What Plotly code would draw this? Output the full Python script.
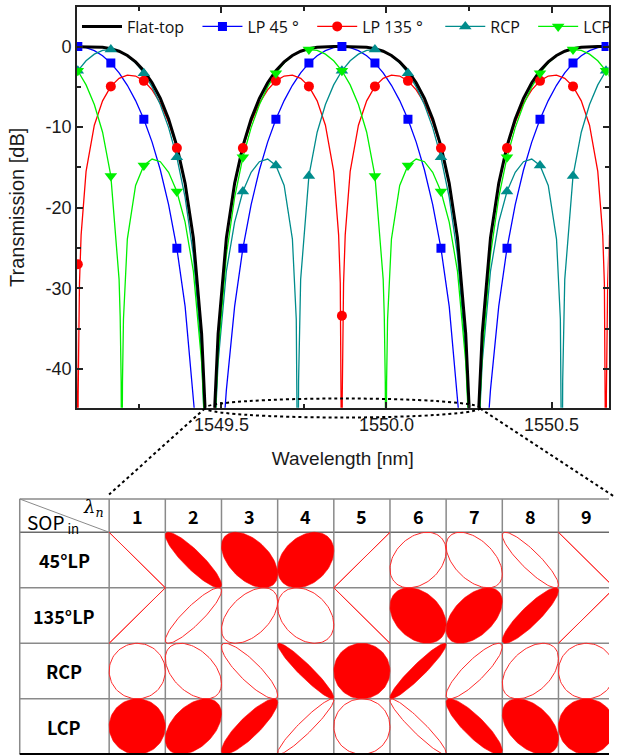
import numpy as np
import plotly.graph_objects as go

# ---------------------------------------------------------------- data
# Transmission spectra (wavelength in nm, transmission in dB)
flat_wl = [1549.040, 1549.065, 1549.090, 1549.115, 1549.140, 1549.165, 1549.190, 1549.215, 1549.240, 1549.265,
           1549.290, 1549.315, 1549.340, 1549.365, 1549.390, 1549.415, 1549.440, 1549.450, 1549.455,
           1549.475, 1549.480, 1549.490, 1549.515, 1549.540, 1549.565, 1549.590, 1549.615, 1549.640, 1549.665,
           1549.690, 1549.715, 1549.740, 1549.765, 1549.790, 1549.815, 1549.840, 1549.865, 1549.890, 1549.915,
           1549.940, 1549.965, 1549.990, 1550.015, 1550.040, 1550.065, 1550.090, 1550.115, 1550.140, 1550.165,
           1550.190, 1550.215, 1550.240, 1550.250, 1550.255,
           1550.275, 1550.280, 1550.290, 1550.315, 1550.340, 1550.365, 1550.390, 1550.415, 1550.440, 1550.465,
           1550.490, 1550.515, 1550.540, 1550.565, 1550.590, 1550.615, 1550.640, 1550.665, 1550.690]
flat_db = [0.0, 0.0, 0.0, -0.02, -0.09, -0.26, -0.59, -1.12, -1.91, -3.01,
           -4.49, -6.44, -8.99, -12.36, -16.97, -23.73, -35.60, -44.44, -51.48,
           -51.48, -44.44, -35.60, -23.73, -16.97, -12.36, -8.99, -6.44, -4.49, -3.01,
           -1.91, -1.12, -0.59, -0.26, -0.09, -0.02, 0.0, 0.0, 0.0, -0.02,
           -0.09, -0.26, -0.59, -1.12, -1.91, -3.01, -4.49, -6.44, -8.99, -12.36,
           -16.97, -23.73, -35.60, -44.44, -51.48,
           -51.48, -44.44, -35.60, -23.73, -16.97, -12.36, -8.99, -6.44, -4.49, -3.01,
           -1.91, -1.12, -0.59, -0.26, -0.09, -0.02, 0.0, 0.0, 0.0]

lp45_wl = [1549.040, 1549.065, 1549.090, 1549.115, 1549.140, 1549.165, 1549.190, 1549.215, 1549.240, 1549.265,
           1549.290, 1549.315, 1549.340, 1549.365, 1549.390, 1549.415, 1549.425,
           1549.505, 1549.515, 1549.540, 1549.565, 1549.590, 1549.615, 1549.640, 1549.665, 1549.690, 1549.715,
           1549.740, 1549.765, 1549.790, 1549.815, 1549.840, 1549.865, 1549.890, 1549.915, 1549.940, 1549.965,
           1549.990, 1550.015, 1550.040, 1550.065, 1550.090, 1550.115, 1550.140, 1550.165, 1550.190, 1550.215,
           1550.225,
           1550.305, 1550.315, 1550.340, 1550.365, 1550.390, 1550.415, 1550.440, 1550.465, 1550.490, 1550.515,
           1550.540, 1550.565, 1550.590, 1550.615, 1550.640, 1550.665, 1550.690]
lp45_db = [-0.13, 0.0, -0.13, -0.51, -1.15, -2.06, -3.27, -4.81, -6.71, -9.03,
           -11.86, -15.32, -19.60, -25.03, -32.23, -42.59, -48.34,
           -48.34, -42.59, -32.23, -25.03, -19.60, -15.32, -11.86, -9.03, -6.71, -4.81,
           -3.27, -2.06, -1.15, -0.51, -0.13, 0.0, -0.13, -0.51, -1.15, -2.06,
           -3.27, -4.81, -6.71, -9.03, -11.86, -15.32, -19.60, -25.03, -32.23, -42.59,
           -48.34,
           -48.34, -42.59, -32.23, -25.03, -19.60, -15.32, -11.86, -9.03, -6.71, -4.81,
           -3.27, -2.06, -1.15, -0.51, -0.13, 0.0, -0.13]

lp135_wl = [1549.060, 1549.063, 1549.064, 1549.065, 1549.066, 1549.067, 1549.070, 1549.075, 1549.090, 1549.115,
            1549.140, 1549.165, 1549.190, 1549.215, 1549.240, 1549.265, 1549.290, 1549.315, 1549.340, 1549.365,
            1549.390, 1549.415, 1549.440, 1549.450, 1549.455,
            1549.475, 1549.480, 1549.490, 1549.515, 1549.540, 1549.565, 1549.590, 1549.615, 1549.640, 1549.665,
            1549.690, 1549.715, 1549.740, 1549.765, 1549.790, 1549.815, 1549.840, 1549.855, 1549.860, 1549.863,
            1549.864, 1549.865, 1549.866, 1549.867, 1549.870, 1549.875, 1549.890, 1549.915, 1549.940, 1549.965,
            1549.990, 1550.015, 1550.040, 1550.065, 1550.090, 1550.115, 1550.140, 1550.165, 1550.190, 1550.215,
            1550.240, 1550.250, 1550.255,
            1550.275, 1550.280, 1550.290, 1550.315, 1550.340, 1550.365, 1550.390, 1550.415, 1550.440, 1550.465,
            1550.490, 1550.515, 1550.540, 1550.565, 1550.590, 1550.615, 1550.640, 1550.655, 1550.660, 1550.663,
            1550.664, 1550.665, 1550.666, 1550.667, 1550.670, 1550.675]
lp135_db = [-29.37, -37.33, -43.35, -60.0, -43.35, -37.33, -29.37, -23.36, -15.49, -9.76,
            -6.74, -4.95, -3.94, -3.54, -3.66, -4.26, -5.37, -7.04, -9.39, -12.60,
            -17.10, -23.79, -35.62, -44.45, -51.48,
            -51.48, -44.45, -35.62, -23.79, -17.10, -12.60, -9.39, -7.04, -5.37, -4.26,
            -3.66, -3.54, -3.94, -4.95, -6.74, -9.76, -15.49, -23.36, -29.37, -37.33,
            -43.35, -60.0, -43.35, -37.33, -29.37, -23.36, -15.49, -9.76, -6.74, -4.95,
            -3.94, -3.54, -3.66, -4.26, -5.37, -7.04, -9.39, -12.60, -17.10, -23.79,
            -35.62, -44.45, -51.48,
            -51.48, -44.45, -35.62, -23.79, -17.10, -12.60, -9.39, -7.04, -5.37, -4.26,
            -3.66, -3.54, -3.94, -4.95, -6.74, -9.76, -15.49, -23.36, -29.37, -37.33,
            -43.35, -60.0, -43.35, -37.33, -29.37, -23.36]

rcp_wl = [1549.040, 1549.065, 1549.090, 1549.115, 1549.140, 1549.165, 1549.190, 1549.215, 1549.240, 1549.265,
          1549.290, 1549.315, 1549.340, 1549.365, 1549.390, 1549.415, 1549.440, 1549.450, 1549.455,
          1549.475, 1549.480, 1549.490, 1549.515, 1549.540, 1549.565, 1549.590, 1549.615, 1549.640, 1549.665,
          1549.690, 1549.715, 1549.7267, 1549.7297, 1549.7317, 1549.7337, 1549.7367, 1549.740, 1549.765, 1549.790,
          1549.815, 1549.840, 1549.865, 1549.890, 1549.915, 1549.940, 1549.965, 1549.990, 1550.015, 1550.040,
          1550.065, 1550.090, 1550.115, 1550.140, 1550.165, 1550.190, 1550.215, 1550.240, 1550.250, 1550.255,
          1550.275, 1550.280, 1550.290, 1550.315, 1550.340, 1550.365, 1550.390, 1550.415, 1550.440, 1550.465,
          1550.490, 1550.515, 1550.5267, 1550.5297, 1550.5317, 1550.5337, 1550.5367, 1550.540, 1550.565, 1550.590,
          1550.615, 1550.640, 1550.665, 1550.690]
rcp_db = [-4.76, -3.01, -1.77, -0.95, -0.49, -0.38, -0.59, -1.14, -2.04, -3.31,
          -5.01, -7.22, -10.06, -13.75, -18.71, -25.85, -38.15, -47.16, -54.30,
          -54.70, -47.76, -39.14, -27.86, -21.78, -17.99, -15.60, -14.29, -13.96, -14.75,
          -17.23, -23.88, -33.83, -41.67, -60.0, -41.51, -33.44, -28.88, -16.05, -10.63,
          -7.19, -4.76, -3.01, -1.77, -0.95, -0.49, -0.38, -0.59, -1.14, -2.04,
          -3.31, -5.01, -7.22, -10.06, -13.75, -18.71, -25.85, -38.15, -47.16, -54.30,
          -54.70, -47.76, -39.14, -27.86, -21.78, -17.99, -15.60, -14.29, -13.96, -14.75,
          -17.23, -23.88, -33.83, -41.67, -60.0, -41.51, -33.44, -28.88, -16.05, -10.63,
          -7.19, -4.76, -3.01, -1.77]

lcp_wl = [1549.040, 1549.065, 1549.090, 1549.115, 1549.140, 1549.165, 1549.190, 1549.1933, 1549.1963, 1549.1983,
          1549.2003, 1549.2033, 1549.215, 1549.240, 1549.265, 1549.290, 1549.315, 1549.340, 1549.365, 1549.390,
          1549.415, 1549.440, 1549.450, 1549.455,
          1549.475, 1549.480, 1549.490, 1549.515, 1549.540, 1549.565, 1549.590, 1549.615, 1549.640, 1549.665,
          1549.690, 1549.715, 1549.740, 1549.765, 1549.790, 1549.815, 1549.840, 1549.865, 1549.890, 1549.915,
          1549.940, 1549.965, 1549.990, 1549.9933, 1549.9963, 1549.9983, 1550.0003, 1550.0033, 1550.015, 1550.040,
          1550.065, 1550.090, 1550.115, 1550.140, 1550.165, 1550.190, 1550.215, 1550.240, 1550.250, 1550.255,
          1550.275, 1550.280, 1550.290, 1550.315, 1550.340, 1550.365, 1550.390, 1550.415, 1550.440, 1550.465,
          1550.490, 1550.515, 1550.540, 1550.565, 1550.590, 1550.615, 1550.640, 1550.665, 1550.690]
lcp_db = [-1.77, -3.01, -4.76, -7.19, -10.63, -16.05, -28.88, -33.44, -41.51, -60.0,
          -41.67, -33.83, -23.88, -17.23, -14.75, -13.96, -14.29, -15.60, -17.99, -21.78,
          -27.86, -39.14, -47.76, -54.70,
          -54.30, -47.16, -38.15, -25.85, -18.71, -13.75, -10.06, -7.22, -5.01, -3.31,
          -2.04, -1.14, -0.59, -0.38, -0.49, -0.95, -1.77, -3.01, -4.76, -7.19,
          -10.63, -16.05, -28.88, -33.44, -41.51, -60.0, -41.67, -33.83, -23.88, -17.23,
          -14.75, -13.96, -14.29, -15.60, -17.99, -21.78, -27.86, -39.14, -47.76, -54.70,
          -54.30, -47.16, -38.15, -25.85, -18.71, -13.75, -10.06, -7.22, -5.01, -3.31,
          -2.04, -1.14, -0.59, -0.38, -0.49, -0.95, -1.77, -3.01, -4.76]

# Symbol markers (every 0.1 nm)
marker_wl = [1549.065, 1549.165, 1549.265, 1549.365, 1549.465, 1549.565, 1549.665, 1549.765, 1549.865,
             1549.965, 1550.065, 1550.165, 1550.265, 1550.365, 1550.465, 1550.565, 1550.665]
lp45_mk = [0.0, -2.06, -9.03, -25.03, None, -25.03, -9.03, -2.06, 0.0,
           -2.06, -9.03, -25.03, None, -25.03, -9.03, -2.06, 0.0]
lp135_mk = [-27.0, -4.95, -4.26, -12.60, None, -12.60, -4.26, -4.95, -33.4,
            -4.95, -4.26, -12.60, None, -12.60, -4.26, -4.95, None]
rcp_mk = [-3.01, -0.38, -3.31, -13.75, None, -17.99, -14.75, -16.05, -3.01,
          -0.38, -3.31, -13.75, None, -17.99, -14.75, -16.05, -3.01]
lcp_mk = [-3.01, -16.05, -14.75, -17.99, None, -13.75, -3.31, -0.38, -3.01,
          -16.05, -14.75, -17.99, None, -13.75, -3.31, -0.38, -3.01]

x_tickvals = [1549.5, 1550.0, 1550.5]
x_ticktext = ["1549.5", "1550.0", "1550.5"]
x_minorvals = [1549.25, 1549.75, 1550.25]
y_tickvals = [0, -10, -20, -30, -40]
y_ticktext = ["0", "-10", "-20", "-30", "-40"]
y_minorvals = [-5, -15, -25, -35]

# Output SOP table: relative phase (deg) between Ex and Ey for each lambda_n
# (negative phase = filled ellipse, positive = outline, 0/180 = linear)
lambda_cols = ["1", "2", "3", "4", "5", "6", "7", "8", "9"]
sop_rows = ["45°LP", "135°LP", "RCP", "LCP"]
phase_45lp = [180, -153, -120, -71, 0, 71, 120, 153, 180]
phase_135lp = [0, 27, 60, 109, 180, -109, -60, -27, 0]
phase_rcp = [90, 117, 150, -161, -90, -19, 30, 63, 90]
phase_lcp = [-90, -63, -30, 19, 90, 161, -150, -117, -90]

# ---------------------------------------------------------------- figure
W, H = 617, 755
BLUE, RED, TEAL, GREEN = "#0000FF", "#FF0000", "#008C8C", "#00F000"
AX = "#222222"
TICKFONT = dict(family="Liberation Sans, Arial, sans-serif", size=18, color="#1a1a1a")
NB = "\u00a0"

fig = go.Figure()

curves = [
    ("Flat-top" + NB * 2, flat_wl, flat_db, None, "black", 3.0, None, None),
    ("LP 45 °" + NB * 2, lp45_wl, lp45_db, lp45_mk, BLUE, 1.3, "square", 9),
    ("LP 135 °" + NB * 3, lp135_wl, lp135_db, lp135_mk, RED, 1.3, "circle", 10),
    ("RCP" + NB * 2, rcp_wl, rcp_db, rcp_mk, TEAL, 1.3, "triangle-up", 11),
    ("LCP", lcp_wl, lcp_db, lcp_mk, GREEN, 1.3, "triangle-down", 11),
]

# lines (coloured first, black flat-top on top)
for name, xw, yd, mk, col, lw, sym, ms in curves[1:] + curves[:1]:
    fig.add_trace(go.Scatter(x=xw, y=yd, mode="lines", line=dict(color=col, width=lw),
                             showlegend=False, hoverinfo="skip", xaxis="x", yaxis="y"))
# symbols
for name, xw, yd, mk, col, lw, sym, ms in curves[1:]:
    fig.add_trace(go.Scatter(x=marker_wl, y=mk, mode="markers",
                             marker=dict(symbol=sym, size=ms, color=col, line=dict(width=0)),
                             showlegend=False, hoverinfo="skip", xaxis="x", yaxis="y"))
# legend entries (line + symbol)
for name, xw, yd, mk, col, lw, sym, ms in curves:
    if sym is None:
        fig.add_trace(go.Scatter(x=[None], y=[None], mode="lines", name=name,
                                 line=dict(color=col, width=lw), xaxis="x", yaxis="y"))
    else:
        fig.add_trace(go.Scatter(x=[None], y=[None], mode="lines+markers", name=name,
                                 line=dict(color=col, width=lw),
                                 marker=dict(symbol=sym, size=ms, color=col, line=dict(width=0)),
                                 xaxis="x", yaxis="y"))

# ---------------- polarization ellipse table (x2 / y2: one unit per cell)
t = np.linspace(0, 2 * np.pi, 97)
fx, fy, ox, oy = [], [], [], []
for r, phases in enumerate([phase_45lp, phase_135lp, phase_rcp, phase_lcp], start=1):
    for c, d in enumerate(phases, start=1):
        ex = c + 0.5 * np.cos(t)
        ey = r - 0.5 * np.cos(t - np.radians(d))
        if -180 < d < 0:
            fx += list(ex) + [None]
            fy += list(ey) + [None]
        else:
            ox += list(ex) + [None]
            oy += list(ey) + [None]
fig.add_trace(go.Scatter(x=fx, y=fy, mode="lines", fill="toself", fillcolor="#FF0000",
                         line=dict(color="#FF0000", width=0.6), showlegend=False,
                         hoverinfo="skip", xaxis="x2", yaxis="y2"))
fig.add_trace(go.Scatter(x=ox, y=oy, mode="lines", line=dict(color="#FF2a2a", width=1),
                         showlegend=False, hoverinfo="skip", xaxis="x2", yaxis="y2"))

n_cols = len(lambda_cols)
n_rows = len(sop_rows)
u_left = -1.0923
v_top = -0.1
shapes = []
grid = dict(color="#8a8a8a", width=1.5)
shapes.append(dict(type="line", xref="x2", yref="y2", x0=u_left, x1=n_cols + 0.5, y0=v_top, y1=v_top, line=grid, layer="below"))
for k in range(n_rows):
    shapes.append(dict(type="line", xref="x2", yref="y2", x0=u_left, x1=n_cols + 0.5, y0=k + 0.5, y1=k + 0.5,
                       line=dict(color="#6a6a6a" if k == 0 else "#8a8a8a", width=1.5), layer="below"))
shapes.append(dict(type="line", xref="x2", yref="y2", x0=u_left, x1=n_cols + 0.5, y0=n_rows + 0.5, y1=n_rows + 0.5,
                   line=dict(color="black", width=2.5), layer="above"))
shapes.append(dict(type="line", xref="x2", yref="y2", x0=u_left, x1=u_left, y0=v_top, y1=n_rows + 0.5, line=grid, layer="below"))
for k in range(n_cols):
    shapes.append(dict(type="line", xref="x2", yref="y2", x0=k + 0.5, x1=k + 0.5, y0=v_top, y1=n_rows + 0.5,
                       line=grid, layer="below"))
shapes.append(dict(type="line", xref="x2", yref="y2", x0=u_left, x1=0.5, y0=v_top, y1=0.5,
                   line=dict(color="#8a8a8a", width=1), layer="below"))

# dotted zoom ellipse + connectors (paper coordinates)
dot = dict(color="black", width=2, dash="dot")
shapes.append(dict(type="circle", xref="paper", yref="paper", x0=207.5 / W, x1=486.5 / W,
                   y0=1 - 417.5 / H, y1=1 - 398.5 / H, line=dot, layer="above"))
shapes.append(dict(type="line", xref="paper", yref="paper", x0=207.5 / W, y0=1 - 408.5 / H,
                   x1=110.5 / W, y1=1 - 494.5 / H, line=dot, layer="above"))
shapes.append(dict(type="line", xref="paper", yref="paper", x0=486.5 / W, y0=1 - 408.5 / H,
                   x1=623.0 / W, y1=1 - 497.0 / H, line=dot, layer="above"))

annotations = []
TBL_FONT = "Noto Sans CJK KR, Noto Sans, sans-serif"
for k, lab in enumerate(lambda_cols, start=1):
    annotations.append(dict(xref="x2", yref="y2", x=k, y=0.2, text="<b>%s</b>" % lab, showarrow=False,
                            font=dict(family=TBL_FONT, size=18, color="black")))
for r, lab in enumerate(sop_rows, start=1):
    annotations.append(dict(xref="x2", yref="y2", x=(u_left + 0.5) / 2, y=r, text="<b>%s</b>" % lab,
                            showarrow=False, font=dict(family=TBL_FONT, size=18, color="black")))
annotations.append(dict(xref="x2", yref="y2", x=-1.004, y=0.33, xanchor="left", text="SOP<sub> in</sub>",
                        showarrow=False, font=dict(family=TBL_FONT, size=19, color="black")))
annotations.append(dict(xref="x2", yref="y2", x=0.226, y=0.06, text="<i>λ<sub>n</sub></i>",
                        showarrow=False, font=dict(family="DejaVu Serif, serif", size=18, color="black")))

fig.update_layout(
    width=W, height=H, autosize=False,
    margin=dict(l=0, r=0, t=0, b=0, pad=0),
    paper_bgcolor="white", plot_bgcolor="white",
    showlegend=True,
    legend=dict(orientation="h", x=78 / W, xanchor="left", y=1 - 26.5 / H, yanchor="middle",
                bgcolor="rgba(0,0,0,0)", borderwidth=0, itemwidth=40,
                font=dict(family="Open Sans, sans-serif", size=16, color="#111111")),
    xaxis=dict(domain=[78 / W, 616.5 / W], range=[1549.0625, 1550.6725], anchor="y",
               showline=True, linecolor=AX, linewidth=1.5, mirror="ticks",
               ticks="inside", ticklen=6, tickwidth=1.5, tickcolor=AX,
               tickmode="array", tickvals=x_tickvals, ticktext=x_ticktext, tickfont=TICKFONT,
               minor=dict(tickmode="array", tickvals=x_minorvals, ticks="inside", ticklen=4,
                          tickwidth=1.5, tickcolor=AX),
               showgrid=False, zeroline=False, automargin=False,
               title=dict(text="Wavelength [nm]", standoff=18,
                          font=dict(family="Liberation Sans, Arial, sans-serif", size=19, color="#1a1a1a"))),
    yaxis=dict(domain=[1 - 407.7 / H, 1 - 7 / H], range=[-44.8, 4.9], anchor="x",
               showline=True, linecolor=AX, linewidth=1.5, mirror="ticks",
               ticks="inside", ticklen=6, tickwidth=1.5, tickcolor=AX,
               tickmode="array", tickvals=y_tickvals, ticktext=y_ticktext, tickfont=TICKFONT,
               minor=dict(tickmode="array", tickvals=y_minorvals, ticks="inside", ticklen=4,
                          tickwidth=1.5, tickcolor=AX),
               showgrid=False, zeroline=False, automargin=False,
               title=dict(text="Transmission [dB]", standoff=16,
                          font=dict(family="Liberation Sans, Arial, sans-serif", size=20, color="#1a1a1a"))),
    xaxis2=dict(domain=[18 / W, 1.0], range=[-1.1274, 9.3998], anchor="y2", visible=False, fixedrange=True),
    yaxis2=dict(domain=[0.0, 1 - 497 / H], range=[4.5126, -0.136], anchor="x2", visible=False, fixedrange=True),
    shapes=shapes,
    annotations=annotations,
)

# make the page exactly the figure size (no body margin, no scrollbars)
page_fix = (
    "var b=document.body, h=document.documentElement;"
    "b.style.margin='0';b.style.padding='0';b.style.overflow='hidden';h.style.overflow='hidden';"
    "var d=document.getElementsByClassName('plotly-graph-div')[0];"
    "d.style.position='absolute';d.style.left='0px';d.style.top='0px';"
)
fig.write_html("out.html", config={"displayModeBar": False, "responsive": False}, post_script=page_fix)
